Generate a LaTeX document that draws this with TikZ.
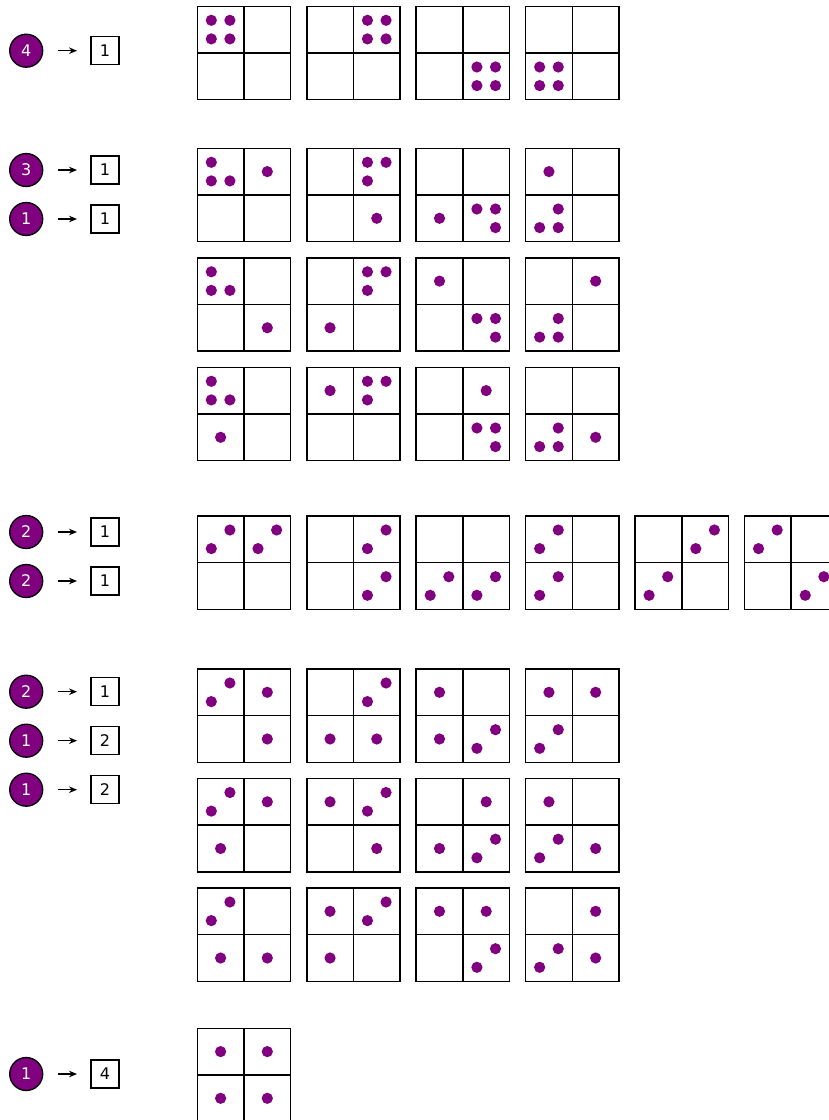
\documentclass[tikz,border=0pt]{standalone}
\usepackage{fontspec}
\setmainfont{DejaVu Sans}
\usetikzlibrary{arrows.meta}
\definecolor{dotpurple}{HTML}{800080}
\tikzset{
  boxline/.style={line width=1.6pt, draw=black},
  dotc/.style={fill=dotpurple},
  cnum/.style={circle, fill=dotpurple, draw=black, line width=1.3pt, minimum size=33pt, inner sep=0pt, text=white, font=\fontsize{16}{19}\selectfont},
  rbox/.style={rectangle, draw=black, line width=1.3pt, minimum size=28pt, inner sep=0pt, font=\fontsize{16}{19}\selectfont},
  arr/.style={-{Stealth[length=8pt,width=6.5pt]}, line width=1.5pt, shorten <=15pt, shorten >=13.3pt}
}
% cell centre offsets
\def\cxTL{23.3}\def\cyTL{23.3}
\def\cxTR{70}\def\cyTR{23.3}
\def\cxBL{23.3}\def\cyBL{70}
\def\cxBR{70}\def\cyBR{70}
\def\dr{5.6}
\def\dd{9.3}
\newcommand{\patone}[3]{\fill[dotc] (#1,#2) circle (\dr);}
\newcommand{\pattwo}[3]{\fill[dotc] (#1-\dd,#2+\dd) circle (\dr) (#1+\dd,#2-\dd) circle (\dr);}
\newcommand{\patfour}[3]{\fill[dotc] (#1-\dd,#2-\dd) circle (\dr) (#1+\dd,#2-\dd) circle (\dr) (#1-\dd,#2+\dd) circle (\dr) (#1+\dd,#2+\dd) circle (\dr);}
\newcommand{\patthree}[3]{\csname three#3\endcsname{#1}{#2}}
\newcommand{\threeTL}[2]{\fill[dotc] (#1-\dd,#2-\dd) circle (\dr) (#1-\dd,#2+\dd) circle (\dr) (#1+\dd,#2+\dd) circle (\dr);}
\newcommand{\threeTR}[2]{\fill[dotc] (#1-\dd,#2-\dd) circle (\dr) (#1+\dd,#2-\dd) circle (\dr) (#1-\dd,#2+\dd) circle (\dr);}
\newcommand{\threeBR}[2]{\fill[dotc] (#1-\dd,#2-\dd) circle (\dr) (#1+\dd,#2-\dd) circle (\dr) (#1+\dd,#2+\dd) circle (\dr);}
\newcommand{\threeBL}[2]{\fill[dotc] (#1+\dd,#2-\dd) circle (\dr) (#1-\dd,#2+\dd) circle (\dr) (#1+\dd,#2+\dd) circle (\dr);}
\newcommand{\dbox}[3]{%
  \pgfmathsetmacro\boxLft{197.3+109.45*#1}%
  \draw[boxline] (\boxLft,#2) rectangle ++(93.3,93.3);
  \draw[boxline] (\boxLft+46.65,#2) -- ++(0,93.3);
  \draw[boxline] (\boxLft,#2+46.65) -- ++(93.3,0);
  \foreach \cc/\pp in {#3}{%
    \pgfmathsetmacro\dcx{\boxLft+\csname cx\cc\endcsname}%
    \pgfmathsetmacro\dcy{#2+\csname cy\cc\endcsname}%
    \csname pat\pp\endcsname{\dcx}{\dcy}{\cc}%
  }%
}
\begin{document}
\begin{tikzpicture}[x=1pt,y=-1pt]
\useasboundingbox (0,0) rectangle (829,1120);
\clip (0,0) rectangle (829,1120);
% ---- labels ----
\foreach \nm/\yy/\cv/\bv in {a/50.7/4/1, b/170/3/1, c/219/1/1, d/532/2/1, e/581/2/1, f/691.7/2/1, g/740.7/1/2, h/789.7/1/2, i/1074/1/4}{
  \node[cnum] (c\nm) at (26.2,\yy) {\cv};
  \node[rbox] (r\nm) at (105,\yy) {\bv};
  \draw[arr] (c\nm) -- (r\nm);
}
% ---- group 1 ----
\dbox{0}{6.3}{TL/four}
\dbox{1}{6.3}{TR/four}
\dbox{2}{6.3}{BR/four}
\dbox{3}{6.3}{BL/four}
% ---- group 2 ----
\dbox{0}{148.3}{TL/three,TR/one}
\dbox{1}{148.3}{TR/three,BR/one}
\dbox{2}{148.3}{BR/three,BL/one}
\dbox{3}{148.3}{BL/three,TL/one}
\dbox{0}{257.8}{TL/three,BR/one}
\dbox{1}{257.8}{TR/three,BL/one}
\dbox{2}{257.8}{BR/three,TL/one}
\dbox{3}{257.8}{BL/three,TR/one}
\dbox{0}{367.3}{TL/three,BL/one}
\dbox{1}{367.3}{TR/three,TL/one}
\dbox{2}{367.3}{BR/three,TR/one}
\dbox{3}{367.3}{BL/three,BR/one}
% ---- group 3 ----
\dbox{0}{516}{TL/two,TR/two}
\dbox{1}{516}{TR/two,BR/two}
\dbox{2}{516}{BL/two,BR/two}
\dbox{3}{516}{TL/two,BL/two}
\dbox{4}{516}{TR/two,BL/two}
\dbox{5}{516}{TL/two,BR/two}
% ---- group 4 ----
\dbox{0}{669}{TL/two,TR/one,BR/one}
\dbox{1}{669}{TR/two,BL/one,BR/one}
\dbox{2}{669}{TL/one,BL/one,BR/two}
\dbox{3}{669}{TL/one,TR/one,BL/two}
\dbox{0}{778.5}{TL/two,TR/one,BL/one}
\dbox{1}{778.5}{TL/one,TR/two,BR/one}
\dbox{2}{778.5}{TR/one,BL/one,BR/two}
\dbox{3}{778.5}{TL/one,BL/two,BR/one}
\dbox{0}{888}{TL/two,BL/one,BR/one}
\dbox{1}{888}{TL/one,TR/two,BL/one}
\dbox{2}{888}{TL/one,TR/one,BR/two}
\dbox{3}{888}{TR/one,BL/two,BR/one}
% ---- group 5 ----
\dbox{0}{1028.3}{TL/one,TR/one,BL/one,BR/one}
\end{tikzpicture}
\end{document}
